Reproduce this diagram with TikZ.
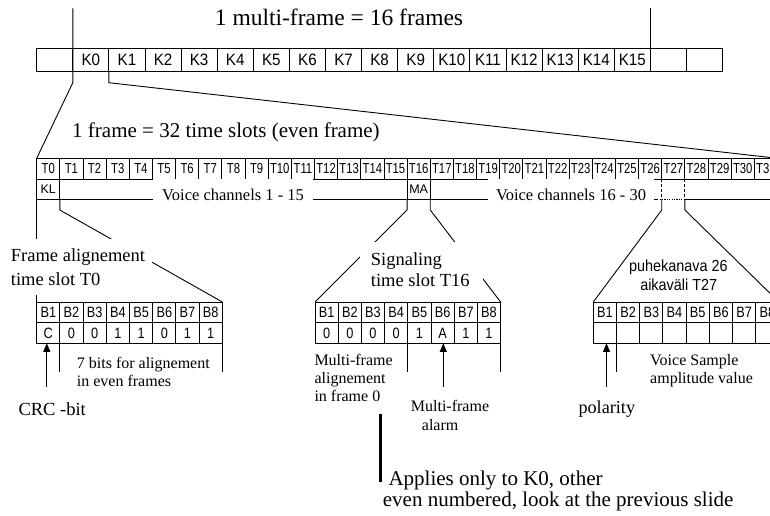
\documentclass[tikz,border=0pt]{standalone}
\usepackage{fontspec}
\setmainfont{Liberation Serif}
\setsansfont{Liberation Sans}
\usetikzlibrary{arrows.meta,calc}

\newcommand\setfsz[2]{\fontsize{#1}{#2}\selectfont}

\tikzset{
  ln/.style={line width=0.9pt},
  cellbase/.style={draw, line width=0.9pt, inner sep=0pt, outer sep=0pt},
  kcell/.style={cellbase, minimum width=36.1pt, minimum height=23.4pt, font=\sffamily\setfsz{16.5}{18}},
  tcell/.style={cellbase, minimum width=23.15pt, minimum height=21pt, font=\sffamily\setfsz{14.5}{16}},
  subcell/.style={cellbase, minimum width=23.15pt, minimum height=20pt, font=\sffamily\setfsz{12.5}{14}},
  bcell/.style={cellbase, minimum width=23.2pt, minimum height=20.65pt, font=\sffamily\setfsz{15}{17}},
  lbl/.style={inner sep=0pt, anchor=base west},
  mask/.style={fill=white, inner sep=0pt},
  arr/.style={ln, -{Triangle[length=8.5pt,width=7pt]}},
}

\begin{document}
\begin{tikzpicture}[x=1pt,y=-1pt]
\useasboundingbox (0,0) rectangle (770,516);
\fill[white] (0,0) rectangle (770,516);

% ---- multi-frame: 19 cells, K0..K15 in cells 1..16
\foreach \i in {0,...,18}{
  \pgfmathsetmacro\cx{36.7+36.1*(\i+0.5)}
  \pgfmathtruncatemacro\k{\i-1}
  \pgfmathtruncatemacro\kon{(\i>0)&&(\i<17)}
  \node[kcell] (mf\i) at (\cx,60) {\ifnum\kon=1 \scalebox{0.92}[1]{K\k}\fi};
}

% ---- one frame: time slots T0..T31
\foreach \i in {0,...,31}{
  \pgfmathsetmacro\cx{36.7+23.15*(\i+0.5)}
  \node[tcell] (t\i) at (\cx,168.8) {\scalebox{0.78}[1]{T\i}};
}
\node[subcell, anchor=north] (kl) at (t0.south) {KL};
\node[subcell, anchor=north] (ma) at (t16.south) {MA};

\coordinate (s27L) at ($(t27.south west)+(0,20)$);
\coordinate (s27R) at ($(t27.south east)+(0,20)$);
\coordinate (dotL) at ($(s27L)+(-4.5,0)$);
\coordinate (r2end) at ($(t31.south east)+(0,20)$);

% ---- bit boxes
\foreach \j/\v in {1/C,2/0,3/0,4/1,5/1,6/0,7/1,8/1}{
  \node[bcell] (a\j) at ({36.7+23.2*(\j-0.5)},312.3) {\scalebox{0.85}[1]{B\j}};
  \node[bcell, anchor=north] (av\j) at (a\j.south) {\scalebox{0.85}[1]{\v}};
}
\foreach \j/\v in {1/0,2/0,3/0,4/0,5/1,6/A,7/1,8/1}{
  \node[bcell] (b\j) at ({315+23.2*(\j-0.5)},312.3) {\scalebox{0.85}[1]{B\j}};
  \node[bcell, anchor=north] (bv\j) at (b\j.south) {\scalebox{0.85}[1]{\v}};
}
\foreach \j in {1,...,8}{
  \node[bcell] (c\j) at ({593.3+23.2*(\j-0.5)},312.3) {\scalebox{0.85}[1]{B\j}};
  \node[bcell, anchor=north] (cv\j) at (c\j.south) {};
}

% ---- span markers and zoom lines
\coordinate (spanL) at ($(mf1.north west)+(0,-40)$);
\coordinate (spanR) at ($(mf16.north east)+(0,-40)$);
\draw[ln] (spanL) -- ($(mf1.south west)+(0,11)$) -- (t0.north west);
\draw[ln] (spanR) -- (mf16.north east);
\draw[ln] (mf2.south west) -- ++(0,11) -- (t31.north east);

% ---- lower edge of the channel row, T27 marked dashed
\draw[ln] (kl.south west) -- (dotL);
\draw[ln, dash pattern=on 1.2pt off 1.2pt] (dotL) -- (s27R);
\draw[ln] (s27R) -- (r2end);
\draw[ln, dash pattern=on 3pt off 2pt] (t27.south west) -- (s27L);
\draw[ln, dash pattern=on 3pt off 2pt] (t27.south east) -- (s27R);

% ---- time slot to bit box
\draw[ln] (kl.south west) -- (a1.north west);
\draw[ln] (kl.south east) -- ++(0,10.7) -- (a8.north east);
\draw[ln] (ma.south west) -- ++(0,10.7) -- (b1.north west);
\draw[ln] (ma.south east) -- ++(0,10.7) -- (b8.north east);
\draw[ln] (s27L) -- ++(0,10.7) -- (c1.north west);
\draw[ln] (s27R) -- ++(0,10.7) -- (c8.north east);

% ---- brackets under the bit boxes
\draw[ln] (av1.south east) -- ++(0,28.4);
\draw[ln] (av8.south east) -- ++(0,28.4);
\draw[ln] (bv4.south east) -- ++(0,28.4);
\draw[ln] (bv8.south east) -- ++(0,28.4);
\draw[ln] (cv1.south east) -- ++(0,28.4);
\draw[ln] (cv8.south east) -- ++(0,28.4);

% ---- pointer arrows
\coordinate (crcTail) at (46.8,386.7);
\coordinate (alarmTail) at (443.3,386.7);
\coordinate (polTail) at (606.5,386.7);
\draw[arr] (crcTail) -- (crcTail |- av1.south);
\draw[arr] (alarmTail) -- (alarmTail |- bv6.south);
\draw[arr] (polTail) -- (polTail |- cv1.south);

\coordinate (barTop) at (380.5,414);
\coordinate (barBot) at (380.5,482);
\draw[line width=2.6pt] (barTop) -- (barBot);

% ---- white panels behind the texts that interrupt lines
\node[mask, minimum width=160pt, minimum height=32pt] (vc1) at (233,194.5) {};
\node[mask, minimum width=166pt, minimum height=32pt] (vc2) at (571,194.5) {};
\node[mask, minimum width=144pt, minimum height=56pt] (fa) at (80,267) {};
\node[mask, minimum width=123pt, minimum height=56pt] (sig) at (421.5,270) {};

% ---- texts
\node[inner sep=0pt, anchor=base, font=\setfsz{23.5}{26}] (title) at (339,26) {1 multi-frame = 16 frames};
\node[lbl, font=\setfsz{21}{24}] (frametitle) at (72,137) {1 frame = 32 time slots (even frame)};

\node[inner sep=0pt, anchor=base, font=\setfsz{16.5}{18}] (vc1t) at (vc1.center |- 0,200) {Voice channels 1 - 15};
\node[inner sep=0pt, anchor=base, font=\setfsz{16.5}{18}] (vc2t) at (vc2.center |- 0,200) {Voice channels 16 - 30};

\node[lbl, font=\setfsz{18.5}{20}] (fa1) at (10.7,261.7) {Frame alignement};
\node[lbl, font=\setfsz{18.5}{20}] (fa2) at (10.7,285) {time slot T0};
\node[lbl, font=\setfsz{18.5}{20}] (sig1) at (370.7,265) {Signaling};
\node[lbl, font=\setfsz{18.5}{20}] (sig2) at (370.7,286.7) {time slot T16};

\node[inner sep=0pt, anchor=base, font=\sffamily\setfsz{16}{18}] (pk1) at (678.3,271.7) {\scalebox{0.9}[1]{puhekanava 26}};
\node[inner sep=0pt, anchor=base, font=\sffamily\setfsz{16}{18}] (pk2) at (678.7,290) {\scalebox{0.9}[1]{aikaväli T27}};

\node[lbl, font=\setfsz{16}{18}] (bits1) at (76.7,368) {7 bits for alignement};
\node[lbl, font=\setfsz{16}{18}] (bits2) at (76.7,386.7) {in even frames};
\node[lbl, font=\setfsz{18.5}{20}] (crc) at (18.3,415) {CRC -bit};

\node[lbl, font=\setfsz{16}{18}] (mfa1) at (314.3,365) {Multi-frame};
\node[lbl, font=\setfsz{16}{18}] (mfa2) at (314.3,383.3) {alignement};
\node[lbl, font=\setfsz{16}{18}] (mfa3) at (314.3,401.7) {in frame 0};
\node[lbl, font=\setfsz{16}{18}] (alarm1) at (410.7,411.7) {Multi-frame};
\node[lbl, font=\setfsz{16}{18}] (alarm2) at (421.7,430) {alarm};

\node[lbl, font=\setfsz{16}{18}] (vs1) at (650,365) {Voice Sample};
\node[lbl, font=\setfsz{16}{18}] (vs2) at (650,383.3) {amplitude value};
\node[lbl, font=\setfsz{18.2}{20}] (pol) at (578.3,413.3) {polarity};

\node[lbl, font=\setfsz{21}{24}] (note1) at (388.3,485) {Applies only to K0, other};
\node[lbl, font=\setfsz{21}{24}] (note2) at (382.7,506) {even numbered, look at the previous slide};
\end{tikzpicture}
\end{document}
